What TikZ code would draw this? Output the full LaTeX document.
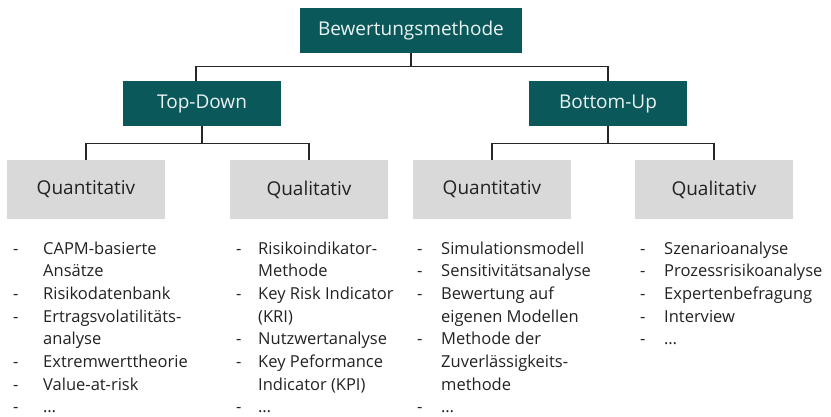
\documentclass[tikz,border=0pt]{standalone}
\usepackage{fontspec}
\setmainfont{Open Sans}
\usetikzlibrary{calc}
\definecolor{tealbox}{HTML}{0B585B}
\definecolor{boxgray}{HTML}{D9D9D9}
\definecolor{ink}{HTML}{222222}
\definecolor{linecol}{HTML}{262626}

% bullet list: dash column of width #1, then the item texts
\newcommand{\dashlist}[2]{\begin{tabular}[t]{@{}p{#1}@{}l@{}}#2\end{tabular}}

\begin{document}
\begin{tikzpicture}[x=1pt,y=-1pt,
  head/.style={fill=tealbox, text=white!92!tealbox, minimum width=158pt,
    minimum height=45pt, inner sep=0pt, font=\fontsize{19}{23}\selectfont},
  cat/.style={fill=boxgray, text=ink, minimum width=158pt, minimum height=59pt,
    inner sep=0pt, font=\fontsize{19}{23}\selectfont},
  itemlist/.style={anchor=base west, inner sep=0pt, text=ink,
    font=\fontsize{16.5}{22.7}\selectfont},
  link/.style={draw=linecol, line width=1.3pt}]
\useasboundingbox (0,0) rectangle (831,416);

% boxes
\node[head, minimum width=222pt] (top) at (411,30.5) {Bewertungsmethode};
\node[head] (td) at (202,103.5) {Top-Down};
\node[head] (bu) at (608,103.5) {Bottom-Up};
\node[cat] (q1) at (86,189.5) {Quantitativ};
\node[cat] (l1) at (309,189.5) {Qualitativ};
\node[cat] (q2) at (492,189.5) {Quantitativ};
\node[cat] (l2) at (714,189.5) {Qualitativ};

% connectors
\coordinate (s0) at ($(top.south)+(0,13.5)$);
\coordinate (s1) at ($(td.south)+(0,17)$);
\coordinate (s2) at ($(bu.south)+(0,17)$);
\draw[link] (top.south) -- (s0) -| ([xshift=-6pt]td.north);
\draw[link] (s0) -| (bu.north);
\draw[link] (td.south) -- (s1) -| (q1.north);
\draw[link] (s1) -| (l1.north);
\draw[link] (bu.south) -- (s2) -| (q2.north);
\draw[link] (s2) -| (l2.north);

% item lists
\node[itemlist] (t1) at (13,254) {\dashlist{30pt}{%
  - & CAPM-basierte\\
    & Ansätze\\
  - & Risikodatenbank\\
  - & Ertragsvolatilitäts-\\
    & analyse\\
  - & Extremwerttheorie\\
  - & Value-at-risk\\
  - & …}};
\node[itemlist] (t2) at (236,254) {\dashlist{22pt}{%
  - & Risikoindikator-\\
    & Methode\\
  - & Key Risk Indicator\\
    & (KRI)\\
  - & Nutzwertanalyse\\
  - & Key Peformance\\
    & Indicator (KPI)\\
  - & …}};
\node[itemlist] (t3) at (417,254) {\dashlist{24pt}{%
  - & Simulationsmodell\\
  - & Sensitivitätsanalyse\\
  - & Bewertung auf\\
    & eigenen Modellen\\
  - & Methode der\\
    & Zuverlässigkeits-\\
    & methode\\
  - & …}};
\node[itemlist] (t4) at (640,254) {\dashlist{24pt}{%
  - & Szenarioanalyse\\
  - & Prozessrisikoanalyse\\
  - & Expertenbefragung\\
  - & Interview\\
  - & …}};
\end{tikzpicture}
\end{document}
